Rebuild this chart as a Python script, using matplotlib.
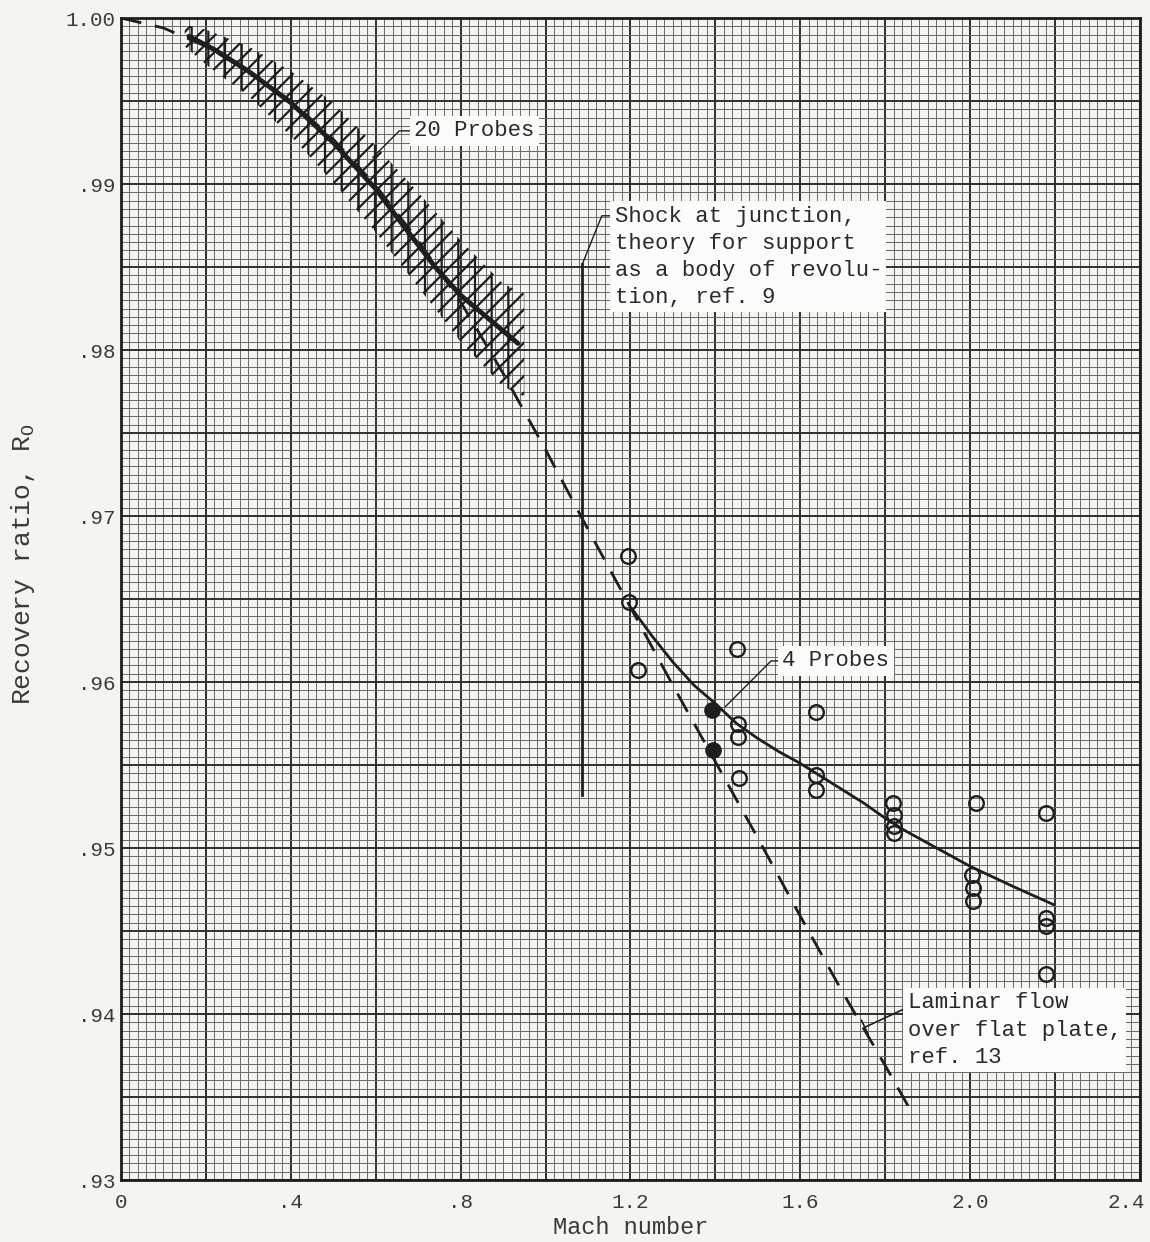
import matplotlib
matplotlib.use('Agg')
import matplotlib.pyplot as plt
import matplotlib.transforms as mtransforms
from matplotlib.ticker import MultipleLocator, FuncFormatter

# laminar flow over flat plate, ref. 13 (dashed)
lam_mach = [0, 0.1, 0.2, 0.3, 0.4, 0.5, 0.6, 0.7, 0.8, 0.9, 1.0, 1.1, 1.2, 1.3,
            1.4, 1.5, 1.6, 1.7, 1.8, 1.86]
lam_r = [1.0000, 0.9994, 0.9983, 0.9968, 0.9950, 0.9927, 0.9899, 0.9866, 0.9829,
         0.9786, 0.9740, 0.9692, 0.9645, 0.9598, 0.9552, 0.9506, 0.9459, 0.9413,
         0.9369, 0.9342]

# 20 probes: faired curve and scatter band
p20_mach = [0.16, 0.22, 0.30, 0.40, 0.50, 0.60, 0.68, 0.74, 0.80, 0.87, 0.935]
p20_r = [0.9989, 0.9981, 0.9968, 0.9949, 0.9925, 0.9897, 0.9870, 0.9850, 0.9833,
         0.9818, 0.9804]
band_mach = [0.15, 0.2, 0.3, 0.4, 0.5, 0.6, 0.7, 0.8, 0.9, 0.95]
band_low = [0.9983, 0.9972, 0.9953, 0.9929, 0.9901, 0.9871, 0.9838, 0.9805, 0.9778, 0.9772]
band_high = [0.9996, 0.9993, 0.9983, 0.9968, 0.9949, 0.9923, 0.9895, 0.9866, 0.9840, 0.9834]

# shock at junction theory
shock_mach = [1.087, 1.087]
shock_r = [0.9532, 0.9852]

# faired curve through data
fair_mach = [1.207, 1.25, 1.30, 1.35, 1.40, 1.45, 1.50, 1.55, 1.60, 1.65, 1.70, 1.75,
             1.80, 1.85, 1.90, 1.95, 2.00, 2.10, 2.196]
fair_r = [0.9643, 0.9628, 0.9612, 0.9598, 0.9587, 0.9575, 0.9566, 0.9558, 0.9551,
          0.9543, 0.9535, 0.9527, 0.9518, 0.9510, 0.9503, 0.9496, 0.9489, 0.9477, 0.9466]

# measured points
open_mach = [1.194, 1.197, 1.217, 1.452, 1.453, 1.453, 1.456, 1.637, 1.637, 1.637,
             1.818, 1.820, 1.820, 1.820, 2.015, 2.005, 2.007, 2.007, 2.179, 2.179, 2.179, 2.179]
open_r = [0.9676, 0.9648, 0.9607, 0.9620, 0.9575, 0.9567, 0.9542, 0.9582, 0.9544, 0.9535,
          0.9527, 0.9520, 0.9513, 0.9509, 0.9527, 0.9484, 0.9476, 0.9468, 0.9521, 0.9458,
          0.9453, 0.9424]
four_mach = [1.391, 1.395]
four_r = [0.9583, 0.9559]

xticks = [0, 0.4, 0.8, 1.2, 1.6, 2.0, 2.4]
xtick_labels = ['0', '.4', '.8', '1.2', '1.6', '2.0', '2.4']
yticks = [0.93, 0.94, 0.95, 0.96, 0.97, 0.98, 0.99, 1.00]
ytick_labels = ['.93', '.94', '.95', '.96', '.97', '.98', '.99', '1.00']

paper = '#f5f4f1'
ink = '#1e1e1e'
plt.rcParams['font.family'] = ['Liberation Mono', 'DejaVu Sans Mono']
plt.rcParams['hatch.linewidth'] = 1.6
plt.rcParams['hatch.color'] = ink

fig = plt.figure(figsize=(11.5, 12.42), dpi=100, facecolor=paper)
ax = fig.add_axes([0.1052, 0.0499, 0.886, 0.9356], facecolor=paper)

ax.set_xlim(0, 2.4)
ax.set_ylim(0.93, 1.00)

# graph paper
ax.xaxis.set_major_locator(MultipleLocator(0.2))
ax.xaxis.set_minor_locator(MultipleLocator(0.02))
ax.yaxis.set_major_locator(MultipleLocator(0.005))
ax.yaxis.set_minor_locator(MultipleLocator(0.0005))
ax.grid(which='minor', color='#6a6a6a', lw=0.7)
ax.grid(which='major', color='#2e2e2e', lw=1.4)
ax.set_axisbelow(True)


def xfmt(v, pos):
    for t, lab in zip(xticks, xtick_labels):
        if abs(v - t) < 1e-6:
            return lab
    return ''


def yfmt(v, pos):
    for t, lab in zip(yticks, ytick_labels):
        if abs(v - t) < 1e-7:
            return lab
    return ''


ax.xaxis.set_major_formatter(FuncFormatter(xfmt))
ax.yaxis.set_major_formatter(FuncFormatter(yfmt))
ax.tick_params(which='both', length=0, labelsize=15, colors='#3a3a3a')
ax.tick_params(axis='y', pad=4)
ax.tick_params(axis='x', pad=9)
for s in ax.spines.values():
    s.set_linewidth(2)
    s.set_color(ink)

ax.set_xlabel('Mach number', fontsize=17, color='#3a3a3a', labelpad=3)
ax.set_ylabel(r'Recovery ratio, R$_\mathregular{O}$', fontsize=19, color='#3a3a3a')
ax.yaxis.set_label_coords(-0.082, 0.53)

# curves
ax.plot(lam_mach, lam_r, color=ink, lw=2, linestyle=(0, (7.5, 5)))
ax.fill_between(band_mach, band_low, band_high, facecolor='none', edgecolor=ink,
                hatch='//|', linewidth=0)
ax.plot(p20_mach, p20_r, color=ink, lw=3.5, solid_capstyle='round')
ax.plot(shock_mach, shock_r, color=ink, lw=2)
ax.plot(fair_mach, fair_r, color=ink, lw=2)

ax.plot(open_mach, open_r, 'o', ms=10.5, mfc='none', mec=ink, mew=1.7)
ax.plot(four_mach, four_r, 'o', ms=11, mfc=ink, mec=ink)

box = dict(facecolor='#fbfbfa', edgecolor='none', pad=3)
txt = dict(fontsize=16, color='#2a2a2a', bbox=box, ha='left')

ax.annotate('20 Probes', xy=(0.593, 0.9916), xytext=(0.69, 0.9932), va='center',
            arrowprops=dict(arrowstyle='-', lw=1, color=ink, shrinkA=0, shrinkB=0,
                            relpos=(0, 0.5),
                            connectionstyle='angle,angleA=0,angleB=45,rad=0'), **txt)
ax.annotate('Shock at junction,\ntheory for support\nas a body of revolu-\ntion, ref. 9',
            xy=(1.087, 0.9852), xytext=(1.163, 0.9887), va='top', linespacing=1.38,
            arrowprops=dict(arrowstyle='-', lw=1, color=ink, shrinkA=0, shrinkB=0,
                            relpos=(0, 0.9),
                            connectionstyle='angle,angleA=0,angleB=68,rad=0'), **txt)
ax.annotate('4 Probes', xy=(1.423, 0.9585), xytext=(1.558, 0.96127), va='center',
            arrowprops=dict(arrowstyle='-', lw=1, color=ink, shrinkA=0, shrinkB=0,
                            relpos=(0, 0.5),
                            connectionstyle='angle,angleA=0,angleB=45,rad=0'), **txt)
ax.annotate('Laminar flow\nover flat plate,\nref. 13', xy=(1.752, 0.9392),
            xytext=(1.853, 0.9413), va='top', linespacing=1.38,
            arrowprops=dict(arrowstyle='-[, widthB=0.35, lengthB=0', lw=1.2, color=ink,
                            shrinkA=0, shrinkB=0, relpos=(0, 0.85),
                            connectionstyle='angle,angleA=0,angleB=25,rad=0'), **txt)

# keep the last x label inside the sheet, as on the original
fig.canvas.draw()
shift = mtransforms.ScaledTranslation(-14 / 100, 0, fig.dpi_scale_trans)
for lab in ax.get_xticklabels():
    if lab.get_text() == '2.4':
        lab.set_transform(lab.get_transform() + shift)

fig.savefig('out.png', dpi=100, facecolor=paper)
